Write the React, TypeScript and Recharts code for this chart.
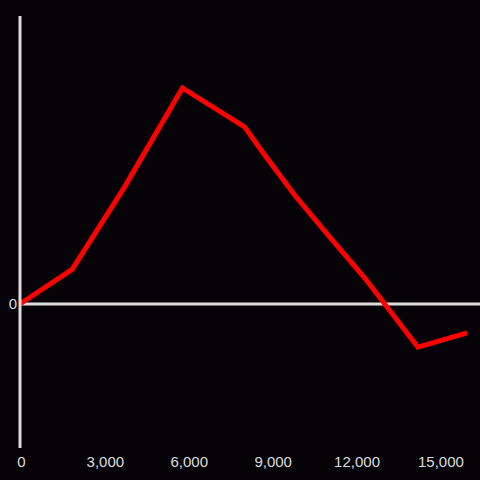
import { LineChart, Line, XAxis, YAxis, ReferenceLine } from 'recharts'

const xValues = [0, 1865, 3730, 5810, 8030, 8750, 9820, 11080, 12330, 14230, 15990]
const yValues = [0, 0.24, 0.81, 1.5, 1.23, 1.035, 0.757, 0.465, 0.18, -0.3, -0.2]
const xTicks = [0, 3000, 6000, 9000, 12000, 15000]
const yTicks = [0]

const data = xValues.map((x, i) => ({ x, y: yValues[i] }))

const axisColor = '#dddddd'

export default function App() {
  return (
    <div
      style={{
        position: 'fixed',
        left: 0,
        top: 0,
        width: 480,
        height: 480,
        background: '#050307',
        fontFamily: '"Liberation Sans", Arial, sans-serif',
      }}
    >
      <LineChart width={480} height={480} data={data} margin={{ top: 16, right: 0, bottom: 0, left: 0 }}>
        <XAxis
          dataKey="x"
          type="number"
          domain={[0, 16450]}
          ticks={xTicks}
          tickFormatter={(v: number) => v.toLocaleString('en-US')}
          axisLine={false}
          tickLine={false}
          height={32}
          tick={{ fill: axisColor, fontSize: 15, dx: 1.5 }}
        />
        <YAxis
          type="number"
          domain={[-1, 2]}
          ticks={yTicks}
          width={20}
          tickLine={false}
          tickSize={2}
          tickMargin={1}
          axisLine={{ stroke: axisColor, strokeWidth: 3 }}
          tick={{ fill: axisColor, fontSize: 15 }}
        />
        <ReferenceLine y={0} stroke={axisColor} strokeWidth={3} />
        <Line
          dataKey="y"
          type="linear"
          stroke="#ff0000"
          strokeWidth={5}
          dot={false}
          isAnimationActive={false}
        />
      </LineChart>
    </div>
  )
}
